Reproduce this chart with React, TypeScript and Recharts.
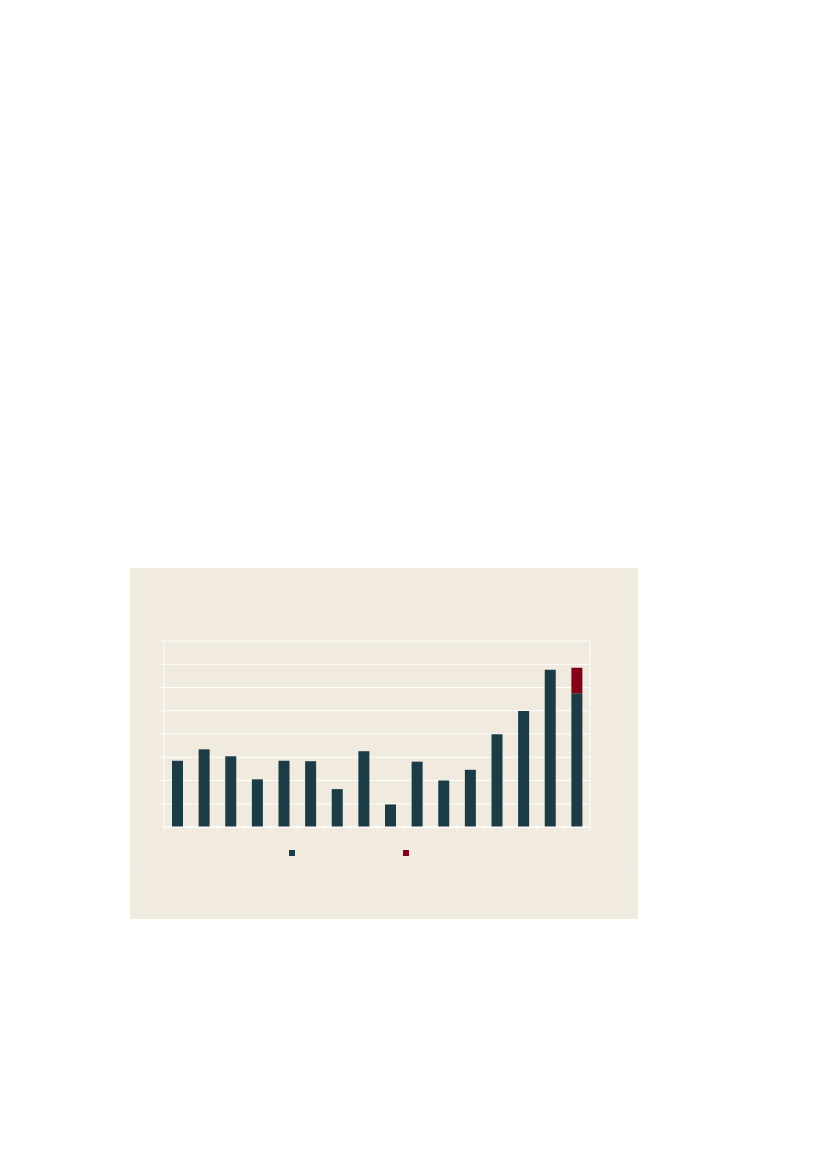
import React from 'react';
import { Bar, BarChart, CartesianGrid, Legend, XAxis, YAxis } from 'recharts';

const categories = ['1', '2', '3', '4', '5', '6', '7', '8', '9', '10', '11', '12', '13', '14', '15', '16'];
const baseValues = [2.85, 3.34, 3.04, 2.05, 2.85, 2.83, 1.63, 3.26, 0.97, 2.81, 2.0, 2.46, 3.99, 4.99, 6.76, 5.75];
const extraValues = [0, 0, 0, 0, 0, 0, 0, 0, 0, 0, 0, 0, 0, 0, 0, 1.1];
const yTicks = [0, 1, 2, 3, 4, 5, 6, 7, 8];

const data = categories.map((label, i) => ({ label, base: baseValues[i], extra: extraValues[i] }));

const BG = '#f0eadf';
const BLUE = '#1b3b47';
const RED = '#840019';

function BoundaryTick({ x, y, payload, index, visibleTicksCount }: any) {
  const half = payload?.offset || 13.3;
  const isLast = index === (visibleTicksCount ?? categories.length) - 1;
  return (
    <g>
      <line x1={x - half} x2={x - half} y1={y} y2={y + 3} stroke="#fff" strokeWidth={1} />
      {isLast ? <line x1={x + half} x2={x + half} y1={y} y2={y + 3} stroke="#fff" strokeWidth={1} /> : null}
    </g>
  );
}

function SquareLegend({ payload }: any) {
  return (
    <div style={{ display: 'flex', gap: 108, paddingLeft: 159 }}>
      {(payload ?? []).map((entry: any) => (
        <span key={entry.dataKey} style={{ width: 6, height: 6, background: entry.color, display: 'inline-block' }} />
      ))}
    </div>
  );
}

export default function App() {
  return (
    <div style={{ position: 'absolute', left: 130, top: 568, width: 508, height: 351, background: BG }}>
      <div style={{ position: 'absolute', left: 0, right: 0, top: 299, borderTop: '1px solid #f3eee6' }} />
      <BarChart width={508} height={351} data={data} margin={{ top: 73, right: 45, bottom: 73, left: 4 }}>
        <CartesianGrid yAxisId="left" stroke="#ffffff" vertical={false} />
        <XAxis
          dataKey="label"
          stroke="#ffffff"
          tickSize={0}
          tickMargin={0}
          height={13}
          tickLine={false}
          tick={<BoundaryTick />}
          interval={0}
        />
        <YAxis
          yAxisId="left"
          domain={[0, 8]}
          ticks={yTicks}
          interval={0}
          width={30}
          stroke="#ffffff"
          tickSize={3}
          tick={() => <g />}
        />
        <YAxis
          yAxisId="right"
          orientation="right"
          domain={[0, 8]}
          ticks={yTicks}
          interval={0}
          width={3}
          stroke="#ffffff"
          tickSize={3}
          tick={() => <g />}
        />
        <Legend
          content={<SquareLegend />}
          wrapperStyle={{ left: 0, top: 282, width: 508 }}
        />
        <Bar yAxisId="left" dataKey="base" stackId="a" fill={BLUE} barSize={11} isAnimationActive={false} />
        <Bar yAxisId="left" dataKey="extra" stackId="a" fill={RED} barSize={11} isAnimationActive={false} />
      </BarChart>
    </div>
  );
}
